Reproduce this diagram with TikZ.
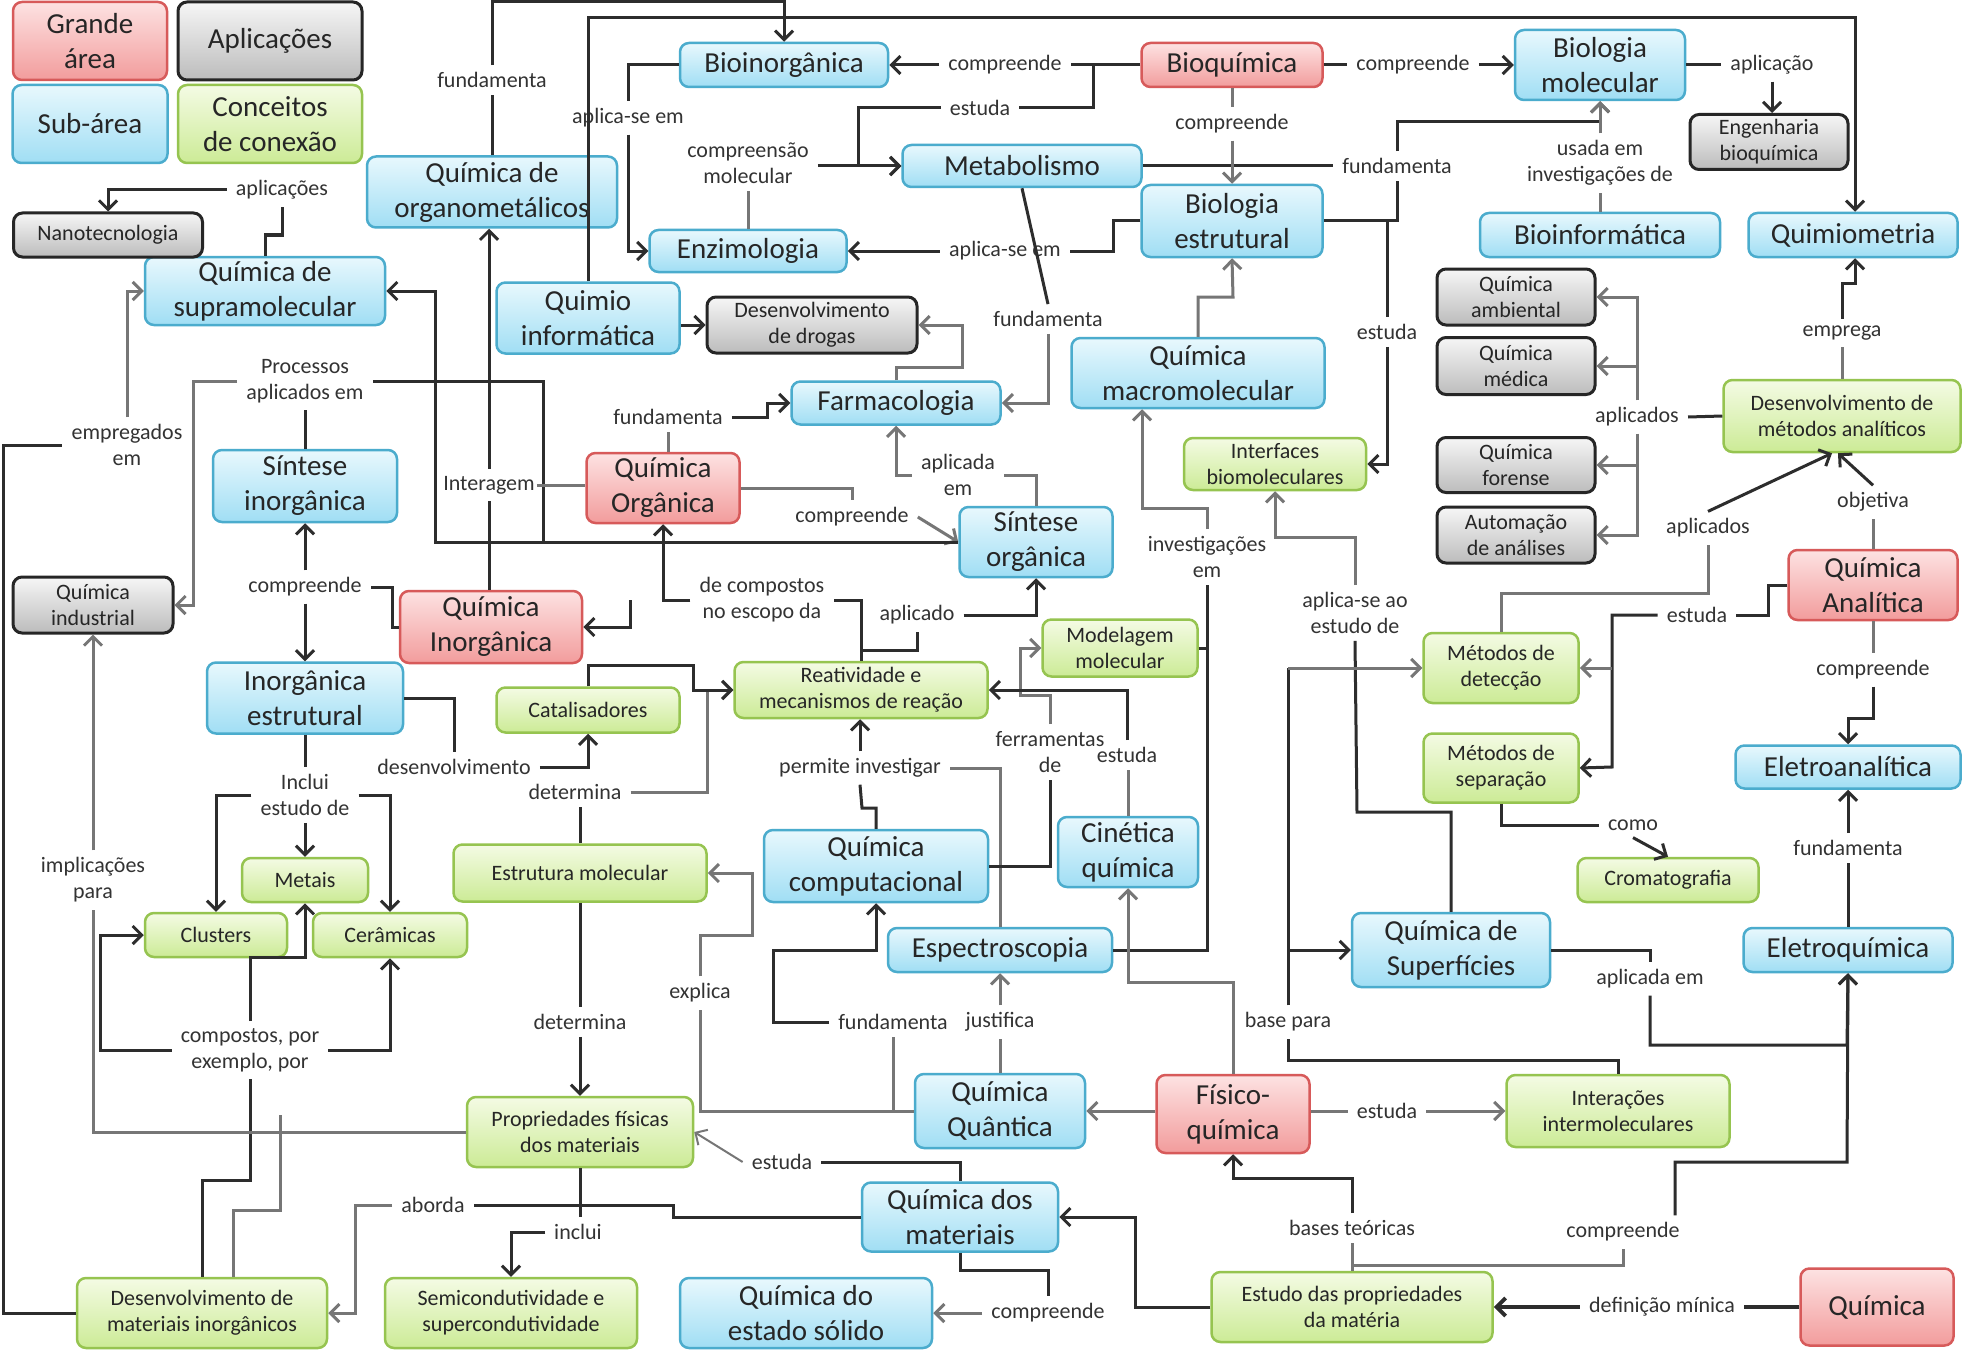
\documentclass[tikz,border=0pt]{standalone}
\usepackage{fontspec}
\setmainfont{Carlito}
\usetikzlibrary{arrows.meta,positioning,calc}
\usepackage{xcolor}

\definecolor{azulborda}{RGB}{75,172,205}
\definecolor{azulclaro}{RGB}{232,248,253}
\definecolor{azulescuro}{RGB}{160,222,244}
\definecolor{vermborda}{RGB}{215,90,90}
\definecolor{vermclaro}{RGB}{253,226,226}
\definecolor{vermescuro}{RGB}{242,156,156}
\definecolor{cinzaclaro}{RGB}{246,246,246}
\definecolor{cinzaescuro}{RGB}{188,188,188}
\definecolor{verdeborda}{RGB}{150,196,80}
\definecolor{verdeclaro}{RGB}{244,251,228}
\definecolor{verdeescuro}{RGB}{204,235,150}
\definecolor{linhaescura}{RGB}{45,45,45}
\definecolor{linhaclara}{RGB}{118,118,118}

\tikzset{
  caixa/.style={rectangle, rounded corners=9pt, align=center, inner sep=1pt,
    text=black!85, font=\fontsize{29}{35}\selectfont},
  grandearea/.style={caixa, draw=vermborda, line width=2.5pt, top color=vermclaro, bottom color=vermescuro},
  subarea/.style={caixa, draw=azulborda, line width=2.5pt, top color=azulclaro, bottom color=azulescuro},
  aplicacao/.style={caixa, draw=black!85, line width=3pt, top color=cinzaclaro, bottom color=cinzaescuro,
    font=\fontsize{22}{26}\selectfont},
  conceito/.style={caixa, draw=verdeborda, line width=2.5pt, top color=verdeclaro, bottom color=verdeescuro,
    font=\fontsize{22}{26}\selectfont},
  rotulo/.style={inner xsep=9pt, inner ysep=7pt, align=center, text=black!80, font=\fontsize{22}{26}\selectfont},
  liga/.style={draw=linhaescura, line width=3pt},
  ligac/.style={draw=linhaclara, line width=3pt},
  >={Straight Barb[length=9pt,width=18pt]},
}

\begin{document}
\begin{tikzpicture}[x=1pt,y=-1pt]
    \fill[white] (0,0) rectangle (1962,1351);
    \useasboundingbox (0,0) rectangle (1962,1351);

    % Legenda
    \node[grandearea, minimum width=154pt, minimum height=78pt] (legGrande) at (90,41) {Grande\\área};
    \node[aplicacao, font=\fontsize{29}{35}\selectfont, minimum width=184pt, minimum height=78pt] (legAplic) at (270,41) {Aplicações};
    \node[subarea, minimum width=155pt, minimum height=78pt] (legSub) at (90,124) {Sub-área};
    \node[conceito, font=\fontsize{29}{35}\selectfont, minimum width=184pt, minimum height=78pt] (legConc) at (270,124) {Conceitos\\de conexão};

    % Grandes areas
    \node[grandearea, minimum width=181pt, minimum height=44pt] (bioquim) at (1232,65) {Bioquímica};
    \node[grandearea, minimum width=153pt, minimum height=70pt] (qorg) at (663,488) {Química\\Orgânica};
    \node[grandearea, minimum width=182pt, minimum height=72pt] (qinorg) at (491,627) {Química\\Inorgânica};
    \node[grandearea, minimum width=169pt, minimum height=70pt] (analitica) at (1873,585) {Química\\Analítica};
    \node[grandearea, minimum width=153pt, minimum height=78pt] (fisico) at (1233,1114) {Físico-\\química};
    \node[grandearea, minimum width=153pt, minimum height=77pt] (quimica) at (1877,1307) {Química};

    % Sub-areas
    \node[subarea, minimum width=208pt, minimum height=44pt] (bioinorg) at (784,65) {Bioinorgânica};
    \node[subarea, minimum width=250pt, minimum height=71pt] (organomet) at (492,192) {Química de\\organometálicos};
    \node[subarea, minimum width=239pt, minimum height=42pt] (metab) at (1022,166) {Metabolismo};
    \node[subarea, minimum width=197pt, minimum height=42pt] (enzimo) at (748,251) {Enzimologia};
    \node[subarea, minimum width=183pt, minimum height=71pt] (quimioinf) at (588,318) {Quimio\\informática};
    \node[subarea, minimum width=209pt, minimum height=43pt] (farmaco) at (896,403) {Farmacologia};
    \node[subarea, minimum width=181pt, minimum height=72pt] (bioestr) at (1232,221) {Biologia\\estrutural};
    \node[subarea, minimum width=253pt, minimum height=70pt] (macromol) at (1198,373) {Química\\macromolecular};
    \node[subarea, minimum width=170pt, minimum height=70pt] (biomol) at (1600,65) {Biologia\\molecular};
    \node[subarea, minimum width=240pt, minimum height=44pt] (bioinf) at (1600,235) {Bioinformática};
    \node[subarea, minimum width=209pt, minimum height=44pt] (quimiom) at (1853,235) {Quimiometria};
    \node[subarea, minimum width=225pt, minimum height=43pt] (eletroanal) at (1848,767) {Eletroanalítica};
    \node[subarea, minimum width=209pt, minimum height=44pt] (eletroq) at (1848,950) {Eletroquímica};
    \node[subarea, minimum width=198pt, minimum height=74pt] (superf) at (1451,950) {Química de\\Superfícies};
    \node[subarea, minimum width=224pt, minimum height=44pt] (espectro) at (1000,950) {Espectroscopia};
    \node[subarea, minimum width=170pt, minimum height=74pt] (quantica) at (1000,1111) {Química\\Quântica};
    \node[subarea, minimum width=196pt, minimum height=69pt] (qmateriais) at (960,1217) {Química dos\\materiais};
    \node[subarea, minimum width=252pt, minimum height=70pt] (solido) at (806,1313) {Química do\\estado sólido};
    \node[subarea, minimum width=140pt, minimum height=70pt] (cinetica) at (1128,852) {Cinética\\química};
    \node[subarea, minimum width=153pt, minimum height=70pt] (sintorg) at (1036,542) {Síntese\\orgânica};
    \node[subarea, minimum width=224pt, minimum height=72pt] (qcomp) at (876,866) {Química\\computacional};
    \node[subarea, minimum width=240pt, minimum height=68pt] (supramol) at (265,291) {Química de\\supramolecular};
    \node[subarea, minimum width=184pt, minimum height=72pt] (sintinorg) at (305,486) {Síntese\\inorgânica};
    \node[subarea, minimum width=196pt, minimum height=71pt] (inorgestr) at (305,698) {Inorgânica\\estrutural};

    % Aplicacoes
    \node[aplicacao, minimum width=210pt, minimum height=56pt] (desdrogas) at (812,325) {Desenvolvimento\\de drogas};
    \node[aplicacao, minimum width=158pt, minimum height=55pt] (engbio) at (1769,142) {Engenharia\\bioquímica};
    \node[aplicacao, minimum width=158pt, minimum height=56pt] (ambiental) at (1516,297) {Química\\ambiental};
    \node[aplicacao, minimum width=158pt, minimum height=57pt] (medica) at (1516,366) {Química\\médica};
    \node[aplicacao, minimum width=158pt, minimum height=55pt] (forense) at (1516,465) {Química\\forense};
    \node[aplicacao, minimum width=158pt, minimum height=56pt] (automacao) at (1516,535) {Automação\\de análises};
    \node[aplicacao, minimum width=189pt, minimum height=44pt] (nano) at (108,235) {Nanotecnologia};
    \node[aplicacao, minimum width=160pt, minimum height=56pt] (industrial) at (93,605) {Química\\industrial};

    % Conceitos de conexao
    \node[conceito, minimum width=182pt, minimum height=52pt] (interfaces) at (1275,464) {Interfaces\\biomoleculares};
    \node[conceito, minimum width=237pt, minimum height=72pt] (desmetodos) at (1842,416) {Desenvolvimento de\\métodos analíticos};
    \node[conceito, minimum width=155pt, minimum height=70pt] (deteccao) at (1501,668) {Métodos de\\detecção};
    \node[conceito, minimum width=155pt, minimum height=69pt] (separacao) at (1501,768) {Métodos de\\separação};
    \node[conceito, minimum width=181pt, minimum height=44pt] (cromato) at (1668,880) {Cromatografia};
    \node[conceito, minimum width=223pt, minimum height=72pt] (interacoes) at (1618,1111) {Interações\\intermoleculares};
    \node[conceito, minimum width=281pt, minimum height=70pt] (estudoprop) at (1352,1307) {Estudo das propriedades\\da matéria};
    \node[conceito, minimum width=155pt, minimum height=57pt] (modelagem) at (1120,648) {Modelagem\\molecular};
    \node[conceito, minimum width=253pt, minimum height=56pt] (reativ) at (861,690) {Reatividade e\\mecanismos de reação};
    \node[conceito, minimum width=183pt, minimum height=45pt] (catalis) at (588,710) {Catalisadores};
    \node[conceito, minimum width=253pt, minimum height=57pt] (estrmol) at (580,873) {Estrutura molecular};
    \node[conceito, minimum width=126pt, minimum height=44pt] (metais) at (305,880) {Metais};
    \node[conceito, minimum width=142pt, minimum height=44pt] (clusters) at (216,935) {Clusters};
    \node[conceito, minimum width=154pt, minimum height=44pt] (ceramicas) at (390,935) {Cerâmicas};
    \node[conceito, minimum width=250pt, minimum height=70pt] (desmat) at (202,1313) {Desenvolvimento de\\materiais inorgânicos};
    \node[conceito, minimum width=252pt, minimum height=70pt] (semicond) at (511,1313) {Semicondutividade e\\supercondutividade};
    \node[conceito, minimum width=226pt, minimum height=70pt] (propfis) at (580,1132) {Propriedades físicas\\dos materiais};

    % Rotulos das ligacoes
    \node[rotulo] (lFund1) at (492,80) {fundamenta};
    \node[rotulo] (lAplSe1) at (628,118) {aplica-se em};
    \node[rotulo] (lCompMol) at (748,163) {compreensão\\molecular};
    \node[rotulo] (lComp1) at (1005,65) {compreende};
    \node[rotulo] (lEstuda1) at (980,108) {estuda};
    \node[rotulo] (lComp2) at (1413,65) {compreende};
    \node[rotulo] (lComp3) at (1232,124) {compreende};
    \node[rotulo] (lFund2) at (1397,166) {fundamenta};
    \node[rotulo] (lAplSe2) at (1005,251) {aplica-se em};
    \node[rotulo] (lFund3) at (1048,319) {fundamenta};
    \node[rotulo] (lEstuda2) at (1387,332) {estuda};
    \node[rotulo] (lAplicacao) at (1772,65) {aplicação};
    \node[rotulo] (lUsada) at (1600,163) {usada em\\investigações de};
    \node[rotulo] (lAplicacoes) at (282,190) {aplicações};
    \node[rotulo] (lProc) at (305,381) {Processos\\aplicados em};
    \node[rotulo] (lEmpreg) at (127,445) {empregados\\em};
    \node[rotulo] (lFund4) at (668,417) {fundamenta};
    \node[rotulo, inner xsep=2pt] (lInterag) at (489,485) {Interagem};
    \node[rotulo] (lComp4) at (852,517) {compreende};
    \node[rotulo] (lAplEm) at (958,475) {aplicada\\em};
    \node[rotulo] (lComp5) at (305,587) {compreende};
    \node[rotulo] (lDeComp) at (762,600) {de compostos\\no escopo da};
    \node[rotulo] (lAplicado) at (917,615) {aplicado};
    \node[rotulo] (lInvest) at (1207,557) {investigações\\em};
    \node[rotulo] (lAplEstudo) at (1355,613) {aplica-se ao\\estudo de};
    \node[rotulo] (lDesenv) at (454,767) {desenvolvimento};
    \node[rotulo] (lDetermina1) at (575,792) {determina};
    \node[rotulo] (lPermite) at (860,768) {permite investigar};
    \node[rotulo] (lFerram) at (1050,752) {ferramentas\\de};
    \node[rotulo] (lEstuda3) at (1127,755) {estuda};
    \node[rotulo] (lInclui1) at (305,795) {Inclui\\estudo de};
    \node[rotulo] (lImplic) at (93,880) {implicações\\para};
    \node[rotulo] (lCompostos) at (250,1050) {compostos, por\\exemplo, por};
    \node[rotulo] (lDetermina2) at (580,1022) {determina};
    \node[rotulo] (lExplica) at (700,993) {explica};
    \node[rotulo] (lFund5) at (893,1022) {fundamenta};
    \node[rotulo] (lJustifica) at (1000,1022) {justifica};
    \node[rotulo] (lBasePara) at (1288,1022) {base para};
    \node[rotulo] (lEstuda4) at (782,1162) {estuda};
    \node[rotulo] (lAborda) at (433,1205) {aborda};
    \node[rotulo] (lInclui2) at (578,1232) {inclui};
    \node[rotulo] (lComp6) at (1048,1313) {compreende};
    \node[rotulo] (lBasesTeo) at (1352,1228) {bases teóricas};
    \node[rotulo] (lEstuda5) at (1387,1111) {estuda};
    \node[rotulo] (lComp7) at (1623,1232) {compreende};
    \node[rotulo] (lDefMin) at (1662,1307) {definição mínica};
    \node[rotulo] (lAplEm2) at (1650,979) {aplicada em};
    \node[rotulo] (lFund6) at (1848,848) {fundamenta};
    \node[rotulo] (lComo) at (1633,825) {como};
    \node[rotulo] (lComp8) at (1873,670) {compreende};
    \node[rotulo] (lEstuda6) at (1697,615) {estuda};
    \node[rotulo] (lAplicados2) at (1708,528) {aplicados};
    \node[rotulo] (lObjetiva) at (1873,502) {objetiva};
    \node[rotulo] (lAplicados1) at (1637,417) {aplicados};
    \node[rotulo] (lEmprega) at (1842,333) {emprega};

    % Ligacoes do topo
    \draw[liga] (organomet.north) -- (lFund1.south);
    \draw[liga,->] (lFund1.north) |- (784,2) -- (bioinorg.north);
    \draw[liga,->] (quimioinf.north) |- (1855,18) -- (1855,0 |- quimiom.north);

    % Bioquimica e vizinhos
    \draw[liga] (bioquim.west) -- (lComp1.east);
    \draw[liga,->] (lComp1.west) -- (bioinorg.east);
    \draw[liga] (1093,65) |- (lEstuda1.east);
    \draw[liga,->] (lEstuda1.west) -- (858,108) |- (metab.west);
    \draw[liga] (bioinorg.west) -| (lAplSe1.north);
    \draw[liga,->] (lAplSe1.south) |- (enzimo.west);
    \draw[ligac] (enzimo.north) -- (lCompMol.south);
    \draw[liga,->] (lCompMol.east |- metab.west) -- (metab.west);
    \draw[liga] (metab.east) -- (lFund2.west);
    \draw[liga,->] (lFund2.north) |- (biomol.south |- 0,122) -- (biomol.south);
    \draw[liga] (bioestr.east) -| (lFund2.south);
    \draw[liga] (1387,221) -- (lEstuda2.north);
    \draw[liga,->] (lEstuda2.south) |- (interfaces.east);
    \draw[ligac] (bioquim.south) -- (lComp3.north);
    \draw[ligac,->] (lComp3.south) -- (bioestr.north);
    \draw[liga] (bioquim.east) -- (lComp2.west);
    \draw[liga,->] (lComp2.east) -- (biomol.west);
    \draw[liga] (biomol.east) -- (lAplicacao.west);
    \draw[liga,->] (lAplicacao.south) -- (lAplicacao.south |- engbio.north);
    \draw[ligac] (bioinf.north) -- (lUsada.south);
    \draw[ligac,->] (lUsada.north) -- (biomol.south);
    \draw[liga] (bioestr.west) -| (1113,251) -- (lAplSe2.east);
    \draw[liga,->] (lAplSe2.west) -- (enzimo.east);
    \draw[liga] (metab.south) -- (lFund3.north);
    \draw[ligac,->] (lFund3.south) |- (farmaco.east);
    \draw[ligac,->] (farmaco.north) |- (962,367) |- (desdrogas.east);
    \draw[liga,->] (quimioinf.east |- desdrogas.west) -- (desdrogas.west);
    \draw[ligac] (qorg.north -| lFund4.south) -- (lFund4.south);
    \draw[liga,->] (lFund4.east) -- (767,417) |- (farmaco.west);
    \draw[ligac] (qorg.east) -| (lComp4.north);
    \draw[ligac,->] (lComp4.east) -- (sintorg.west);

    % Sintese organica, supramolecular e industrial
    \draw[liga,->] (sintorg.west) -- (435,542) |- (supramol.east);
    \draw[liga] (543,542) |- (lProc.east);
    \draw[liga] (sintinorg.north) -- (lProc.south);
    \draw[ligac,->] (lProc.west) -| (193,605) -- (industrial.east);
    \draw[liga] (desmat.west) -| (3,445) -- (lEmpreg.west);
    \draw[ligac,->] (lEmpreg.north) |- (supramol.west);
    \draw[liga] (supramol.north) |- (282,235) -- (lAplicacoes.south);
    \draw[liga,->] (lAplicacoes.west) -| (nano.north);

    % Inorganica
    \draw[liga] (qinorg.north -| lInterag) -- (lInterag);
    \draw[liga,->] (lInterag) -- (lInterag |- organomet.south);
    \draw[ligac] (lInterag.east) -- (lInterag.east -| qorg.west);
    \draw[liga] (qinorg.west) -- (392,627) |- (lComp5.east);
    \draw[liga,->] (lComp5.north) -- (sintinorg.south);
    \draw[liga,->] (lComp5.south) -- (inorgestr.north);
    \draw[liga] (inorgestr.east) -| (lDesenv.north);
    \draw[liga,->] (lDesenv.east) -| (catalis.south);
    \draw[liga] (inorgestr.south) -- (lInclui1.north);
    \draw[liga,->] (lInclui1.south) -- (metais.north);
    \draw[liga,->] (lInclui1.west) -| (clusters.north);
    \draw[liga,->] (lInclui1.east) -| (ceramicas.north);
    \draw[liga] (desmat.north) |- (250,1180) -- (lCompostos.south);
    \draw[liga,->] (lCompostos.west) -| (100,935) -- (clusters.west);
    \draw[liga,->] (lCompostos.north) |- (305,957) -- (metais.south);
    \draw[liga,->] (lCompostos.east) -| (ceramicas.south);
    \draw[ligac] (propfis.west) -| (lImplic.south);
    \draw[ligac,->] (lImplic.north) -- (industrial.south);
    \draw[ligac] (280,1115) -- (280,1210) -- (233,1210) -- (233,0 |- desmat.north);

    % Materiais
    \draw[liga] (qmateriais.west) -| (673,1205) -- (lAborda.east);
    \draw[ligac,->] (lAborda.west) -| (355,1313) -- (desmat.east);
    \draw[liga] (propfis.south) -- (propfis.south |- lInclui2.north);
    \draw[liga,->] (lInclui2.west) -| (semicond.north);
    \draw[liga] (estrmol.south) -- (estrmol.south |- lDetermina2.north);
    \draw[liga,->] (lDetermina2.south) -- (lDetermina2.south |- propfis.north);
    \draw[liga] (estrmol.north) -- (estrmol.north |- lDetermina1.south);
    \draw[ligac,->] (lDetermina1.east) -| (707,690) -- (reativ.west);
    \draw[liga,->] (catalis.north) |- (693,665) |- (reativ.west);

    % Reatividade
    \draw[liga] (reativ.north) |- (lDeComp.east);
    \draw[liga,->] (lDeComp.west) -| (qorg.south);
    \draw[liga,->] (630,600) |- (qinorg.east);
    \draw[liga] (861,650) -| (lAplicado.south);
    \draw[liga,->] (lAplicado.east) -| (sintorg.south);
    \draw[ligac] (sintorg.north) |- (lAplEm.east);
    \draw[ligac,->] (lAplEm.west) -| (farmaco.south);
    \draw[liga] (qcomp.north) |- (862,808) -- (lPermite.south);
    \draw[liga,->] (lPermite.north) -- (lPermite.north |- reativ.south);
    \draw[ligac] (espectro.north) |- (lPermite.east);
    \draw[liga] (qcomp.east) -| (lFerram.south);
    \draw[ligac,->] (lFerram.north) |- (1020,695) |- (modelagem.west);
    \draw[ligac] (cinetica.north) -- (cinetica.north |- lEstuda3.south);
    \draw[liga,->] (lEstuda3.north) |- (reativ.east);

    % Macromolecular e interfaces
    \draw[liga] (espectro.east) -| (lInvest.south);
    \draw[liga] (modelagem.east) -- (modelagem.east -| lInvest);
    \draw[ligac,->] (lInvest.north) |- (1142,508) -- (1142,0 |- macromol.south);
    \draw[ligac,->] (macromol.north) |- (1233,297) -- (bioestr.south);
    \draw[liga] (superf.north) |- (1357,812) -- (lAplEstudo.south);
    \draw[ligac,->] (lAplEstudo.north) |- (1275,537) -- (interfaces.south);

    % Fisico-quimica
    \draw[ligac,->] (fisico.north) |- (1128,982) -- (cinetica.south);
    \draw[liga] (interacoes.north) |- (1288,1060) -- (lBasePara.south);
    \draw[liga] (lBasePara.north) -- (1288,668);
    \draw[ligac,->] (1288,668) -- (deteccao.west);
    \draw[liga,->] (1288,950) -- (superf.west);
    \draw[ligac] (fisico.east |- lEstuda5.west) -- (lEstuda5.west);
    \draw[ligac,->] (lEstuda5.east) -- (lEstuda5.east -| interacoes.west);
    \draw[ligac,->] (fisico.west |- quantica.east) -- (quantica.east);
    \draw[ligac] (estudoprop.north) -- (estudoprop.north |- lBasesTeo.south);
    \draw[liga,->] (lBasesTeo.north) |- (1233,1178) -- (fisico.south);
    \draw[ligac] (1352,1265) -| (lComp7.south);
    \draw[liga,->] (lComp7.north -| 1675,0) |- (1847,1162) -- (eletroq.south);
    \draw[liga] (superf.east) -| (lAplEm2.north);
    \draw[liga,->] (lAplEm2.south) |- (1847,1045) -- (eletroq.south);
    \draw[liga,line width=4pt] (quimica.west) -- (lDefMin.east);
    \draw[liga,line width=4pt,->] (lDefMin.west) -- (estudoprop.east);
    \draw[liga,->] (estudoprop.west) -| (1135,1217) -- (qmateriais.east);
    \draw[liga] (qmateriais.south) |- (1048,1270) -- (lComp6.north);
    \draw[ligac,->] (lComp6.west) -- (solido.east);
    \draw[liga] (qmateriais.north) |- (lEstuda4.east);
    \draw[ligac,->,line width=2pt] (lEstuda4.west) -- (propfis.east);

    % Quantica
    \draw[ligac] (quantica.west) -- (700,1111) -- (lExplica.south);
    \draw[ligac] (893,1111) -- (lFund5.south);
    \draw[liga,->] (lFund5.west) -| (773,950) -| (qcomp.south);
    \draw[ligac,->] (lExplica.north) |- (752,935) |- (estrmol.east);
    \draw[ligac] (quantica.north) -- (lJustifica.south);
    \draw[ligac,->] (lJustifica.north) -- (espectro.south);

    % Analitica
    \draw[liga] (eletroq.north) -- (lFund6.south);
    \draw[liga,->] (lFund6.north) -- (eletroanal.south);
    \draw[ligac] (analitica.south) -- (lComp8.north);
    \draw[liga,->] (lComp8.south) |- (1848,718) -- (eletroanal.north);
    \draw[ligac] (analitica.north) -- (lObjetiva.south);
    \draw[liga,->] (lObjetiva.north) -- ([xshift=-4pt]desmetodos.south);
    \draw[ligac] (deteccao.north) |- (1708,593) -- (lAplicados2.south);
    \draw[liga,->] (lAplicados2.north) -- ([xshift=-10pt]desmetodos.south);
    \draw[liga] (analitica.west) -- (1768,585) |- (lEstuda6.east);
    \draw[liga,->] (lEstuda6.west) -| (1612,767) -- (separacao.east);
    \draw[ligac,->] (1612,668) -- (deteccao.east);
    \draw[liga] (separacao.south) |- (lComo.west);
    \draw[liga,->] (lComo.south) -- (cromato.north);
    \draw[liga] (desmetodos.west) -- (lAplicados1.east);
    \draw[ligac,->] (lAplicados1.north) |- (ambiental.east);
    \draw[ligac,->] (1637,366) -- (medica.east);
    \draw[ligac,->] (lAplicados1.south) |- (automacao.east);
    \draw[ligac,->] (1637,465) -- (forense.east);
    \draw[ligac] (desmetodos.north) -- (lEmprega.south);
    \draw[liga,->] (lEmprega.north) |- (1855,283) -- (1855,0 |- quimiom.south);
\end{tikzpicture}
\end{document}
